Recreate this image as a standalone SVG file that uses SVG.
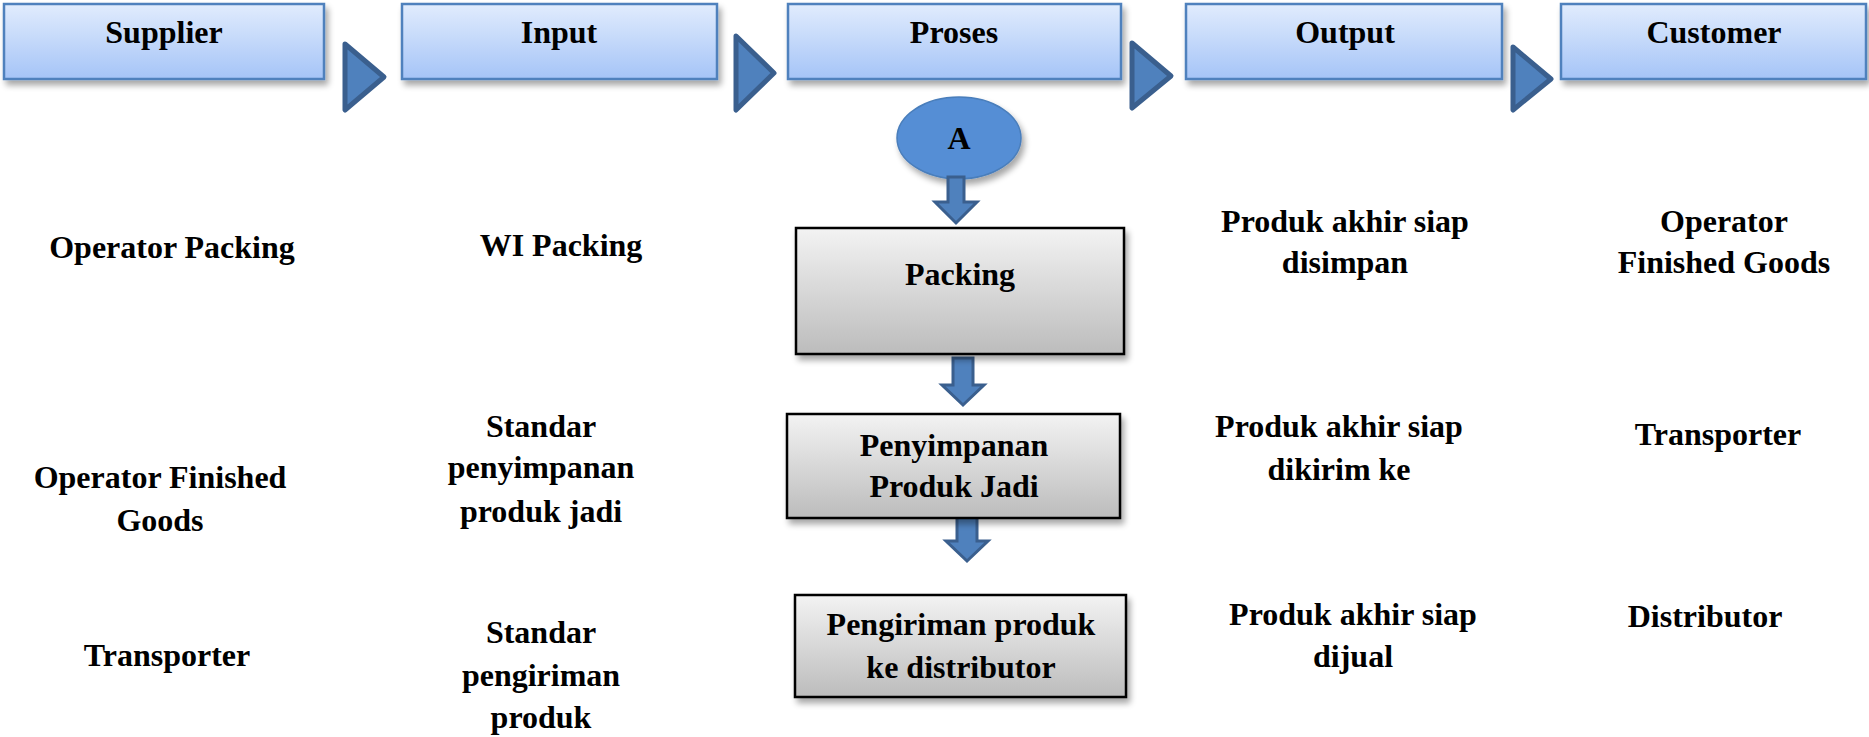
<svg xmlns="http://www.w3.org/2000/svg" width="1869" height="737" viewBox="0 0 1869 737">
<defs>
<linearGradient id="gBlue" x1="0" y1="0" x2="0" y2="1">
<stop offset="0" stop-color="#e1ecfd"/>
<stop offset="1" stop-color="#a5c4f7"/>
</linearGradient>
<linearGradient id="gGray" x1="0" y1="0" x2="0" y2="1">
<stop offset="0" stop-color="#f3f3f3"/>
<stop offset="1" stop-color="#bcbcbc"/>
</linearGradient>
<filter id="sh" x="-10%" y="-20%" width="125%" height="150%">
<feGaussianBlur in="SourceAlpha" stdDeviation="3"/>
<feOffset dx="3" dy="5" result="b"/>
<feComponentTransfer><feFuncA type="linear" slope="0.35"/></feComponentTransfer>
<feMerge><feMergeNode/><feMergeNode in="SourceGraphic"/></feMerge>
</filter>
</defs>
<style>
.hdr{fill:url(#gBlue);stroke:#4f81bd;stroke-width:2.5;filter:url(#sh)}
.proc{fill:url(#gGray);stroke:#000;stroke-width:2.5;filter:url(#sh)}
.tri{fill:#4f81bd;stroke:#3a5f8e;stroke-width:5;stroke-linejoin:round}
.dn{fill:#4f81bd;stroke:#3a5f8e;stroke-width:3;stroke-linejoin:miter}
.t{font-family:"Liberation Serif","Times New Roman",serif;font-weight:bold;font-size:32px;fill:#000;text-anchor:middle}
</style>
<rect width="1869" height="737" fill="#fff"/>

<g id="hdr-supplier"><rect class="hdr" x="4" y="4" width="320" height="75"/><text class="t" x="164" y="43">Supplier</text></g>
<g id="hdr-input"><rect class="hdr" x="402" y="4" width="315" height="75"/><text class="t" x="559" y="43">Input</text></g>
<g id="hdr-proses"><rect class="hdr" x="788" y="4" width="333" height="75"/><text class="t" x="954" y="43">Proses</text></g>
<g id="hdr-output"><rect class="hdr" x="1186" y="4" width="316" height="75"/><text class="t" x="1345" y="43">Output</text></g>
<g id="hdr-customer"><rect class="hdr" x="1561" y="4" width="305" height="75"/><text class="t" x="1714" y="43">Customer</text></g>

<g id="connectors">
<polygon class="tri" points="345,44 384,77 345,110"/>
<polygon class="tri" points="736,36 774,73 736,110"/>
<polygon class="tri" points="1132,43 1171,76 1132,108"/>
<polygon class="tri" points="1513,47 1551,79 1513,110"/>
</g>

<g id="node-a"><ellipse cx="959" cy="138" rx="62" ry="41" fill="#558ed5" stroke="#4a7ebb" stroke-width="1.5" filter="url(#sh)"/><text class="t" x="959" y="149" font-size="29">A</text></g>

<g id="connectors-down">
<polygon class="dn" points="948,177 964,177 964,202 977,202 956,223 935,202 948,202"/>
<polygon class="dn" points="953,358 973,358 973,385 984,385 963,405 942,385 953,385"/>
<polygon class="dn" points="957,514 977,514 977,541 988,541 967,561 946,541 957,541"/>
</g>

<g id="node-packing"><rect class="proc" x="796" y="228" width="328" height="126"/><text class="t" x="960" y="285">Packing</text></g>
<g id="node-penyimpanan"><rect class="proc" x="787" y="414" width="333" height="104"/><text class="t" x="954" y="456">Penyimpanan</text><text class="t" x="954" y="497">Produk Jadi</text></g>
<g id="node-pengiriman"><rect class="proc" x="795" y="595" width="331" height="102"/><text class="t" x="961" y="635">Pengiriman produk</text><text class="t" x="961" y="678">ke distributor</text></g>

<g id="supplier-texts">
<text class="t" x="172" y="258">Operator Packing</text>
<text class="t" x="160" y="488">Operator Finished</text>
<text class="t" x="160" y="531">Goods</text>
<text class="t" x="167" y="666">Transporter</text>
</g>
<g id="input-texts">
<text class="t" x="561" y="256">WI Packing</text>
<text class="t" x="541" y="437">Standar</text>
<text class="t" x="541" y="478">penyimpanan</text>
<text class="t" x="541" y="522">produk jadi</text>
<text class="t" x="541" y="643">Standar</text>
<text class="t" x="541" y="686">pengiriman</text>
<text class="t" x="541" y="728">produk</text>
</g>
<g id="output-texts">
<text class="t" x="1345" y="232">Produk akhir siap</text>
<text class="t" x="1345" y="273">disimpan</text>
<text class="t" x="1339" y="437">Produk akhir siap</text>
<text class="t" x="1339" y="480">dikirim ke</text>
<text class="t" x="1353" y="625">Produk akhir siap</text>
<text class="t" x="1353" y="667">dijual</text>
</g>
<g id="customer-texts">
<text class="t" x="1724" y="232">Operator</text>
<text class="t" x="1724" y="273">Finished Goods</text>
<text class="t" x="1718" y="445">Transporter</text>
<text class="t" x="1705" y="627">Distributor</text>
</g>
</svg>
